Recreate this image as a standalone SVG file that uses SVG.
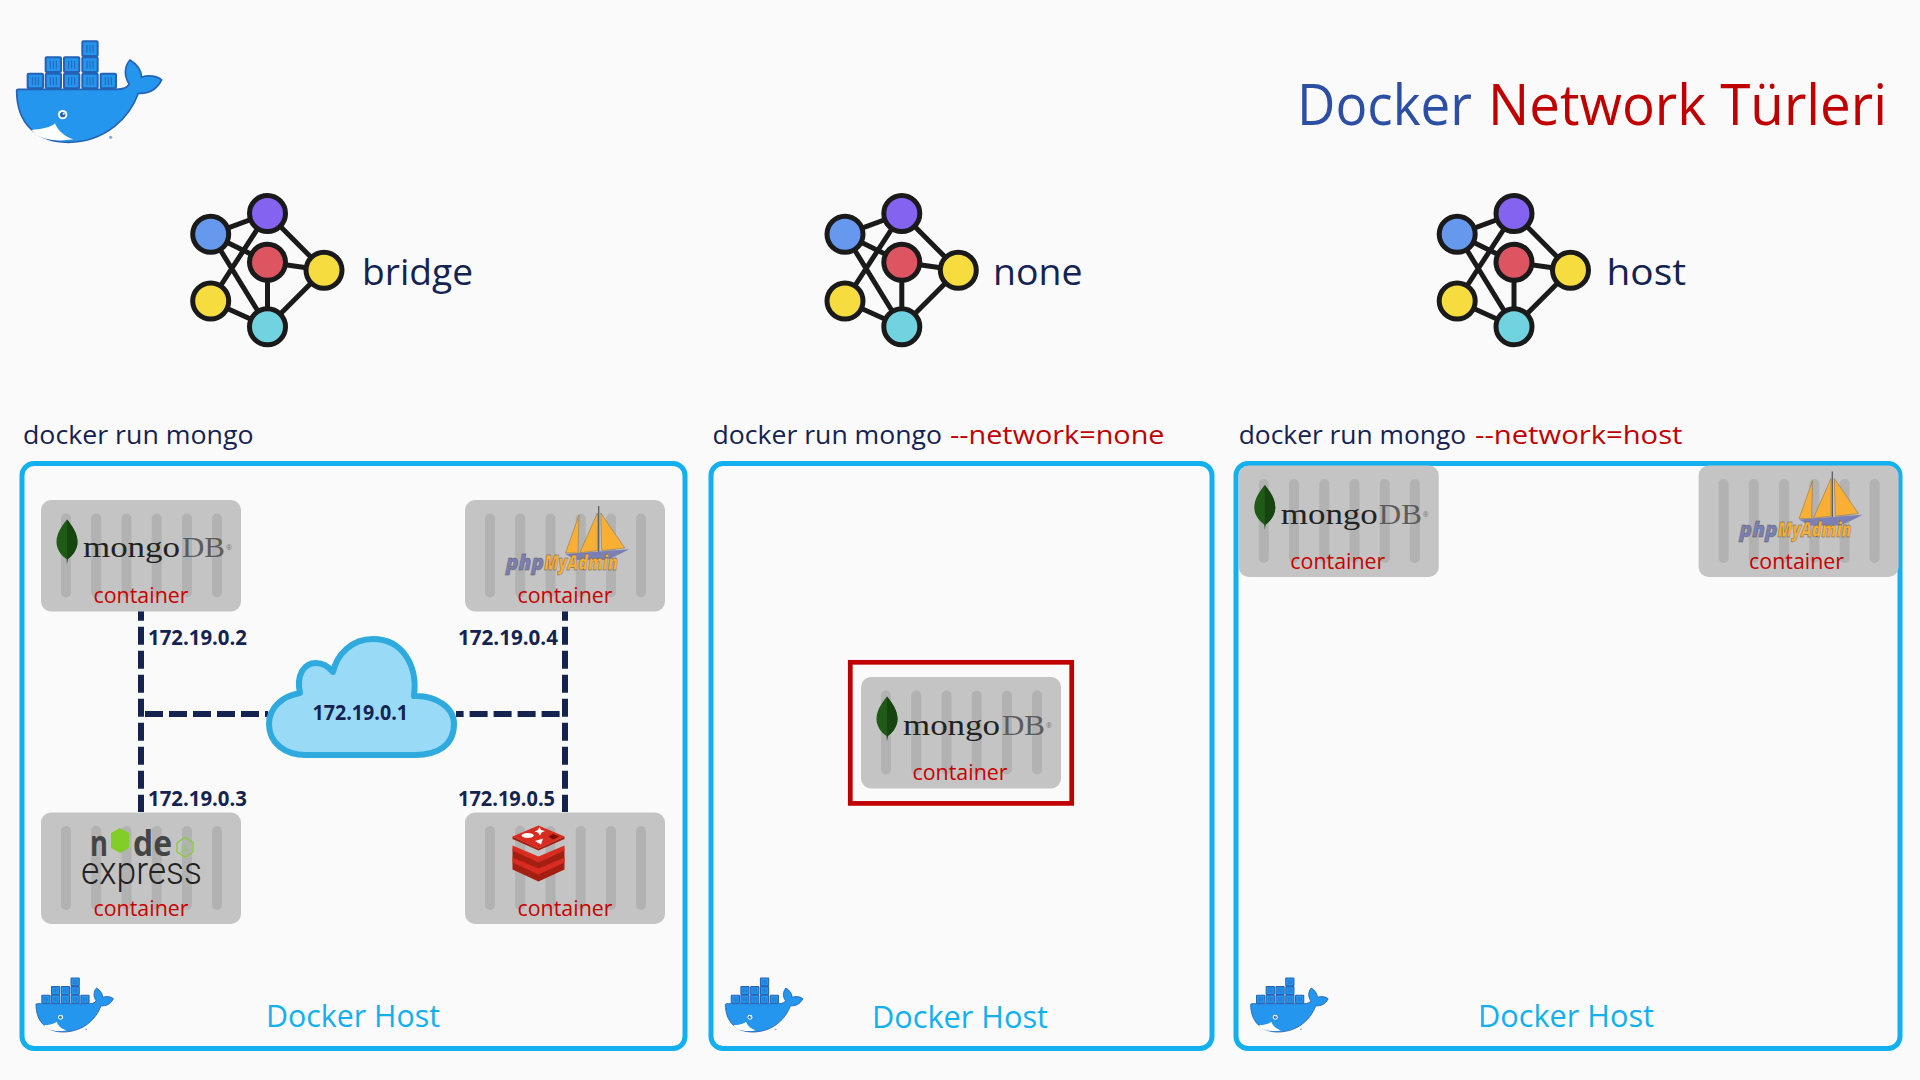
<svg xmlns="http://www.w3.org/2000/svg" xmlns:xlink="http://www.w3.org/1999/xlink" width="1920" height="1080" viewBox="0 0 1920 1080">
<style>
text{font-family:"Open Sans","Noto Sans","Liberation Sans",sans-serif}
.navy{fill:#152351}
.red{fill:#c00000}
.cmd{font-size:26px}
.net{font-size:37px;fill:#152351}
.ip{font-size:21px;font-weight:700;fill:#152351}
.ctn{font-size:22px;fill:#c80000;text-anchor:middle}
.host{font-size:31px;fill:#12b0ef}
.panel{fill:none;stroke:#12b0ef;stroke-width:5}
.dash{stroke:#152351;stroke-width:6;fill:none;stroke-dasharray:18 6}
.mongo{font-family:"Liberation Serif",serif;font-size:30px;fill:#222}
.db{font-family:"Liberation Serif",serif;font-size:30px;fill:#5c5c5c}
.reg{font-size:7px;fill:#777}
.pma{font-size:21px;font-weight:800;font-style:italic;stroke:#555;stroke-width:.4}
.edge{stroke:#1a1a1a;stroke-width:5}
.nd{stroke:#1a1a1a;stroke-width:5}
.wb{fill:#2496ed;stroke:#2562b5;stroke-width:6}
.wt{stroke:#2562b5;stroke-width:3}
</style>
<defs>
<g id="crate"><rect x="4" y="4" width="46" height="44" rx="3" class="wb"/><path d="M18 14V38M27 14V38M36 14V38" class="wt" fill="none"/></g>
<g id="whale">
<use href="#crate" x="243" y="120"/><use href="#crate" x="133" y="168"/><use href="#crate" x="188" y="168"/><use href="#crate" x="243" y="168"/>
<use href="#crate" x="79" y="217"/><use href="#crate" x="133" y="217"/><use href="#crate" x="188" y="217"/><use href="#crate" x="243" y="217"/><use href="#crate" x="298" y="217"/>
<path d="M50 272Q50 268 56 268H350C370 268 382 262 388 252C372 230 372 200 390 180C410 192 424 212 425 232C445 224 472 228 485 240C470 270 445 282 415 280C390 350 320 425 205 427C110 427 50 370 50 272Z" fill="#2496ed" stroke="#2562b5" stroke-width="5"/>
<path d="M95 390C120 387 150 385 165 370C175 395 195 410 220 418C170 426 115 420 95 390Z" fill="#fff"/>
<circle cx="188" cy="344" r="14" fill="#fff"/><circle cx="188" cy="344" r="8" fill="#2562b5"/><circle cx="191" cy="341" r="3" fill="#fff"/>
<circle cx="332" cy="412" r="5" fill="#8fa6d8"/>
</g>
<g id="netw">
<path class="edge" d="M210.700 234.300L267.500 213.500M210.700 234.300L267.500 262.300M210.700 234.300L267.500 326.700M267.500 213.500L210.700 301M267.500 213.500L324 270.300M267.500 262.300L324 270.300M267.500 262.300V326.700M210.700 301L267.500 326.700M324 270.300L267.500 326.700"/>
<circle class="nd" cx="267.500" cy="213.500" r="18" fill="#8363f0"/>
<circle class="nd" cx="210.700" cy="234.300" r="18" fill="#6699ee"/>
<circle class="nd" cx="267.500" cy="262.300" r="18" fill="#dd5560"/>
<circle class="nd" cx="324" cy="270.300" r="18" fill="#f7dc3f"/>
<circle class="nd" cx="210.700" cy="301" r="18" fill="#f7dc3f"/>
<circle class="nd" cx="267.500" cy="326.700" r="18" fill="#72d3e0"/>
</g>
<g id="box">
<rect width="200" height="111.500" rx="10" fill="#c4c4c4"/>
<g fill="#b2b2b2"><rect x="20" y="13.500" width="10" height="84" rx="5"/><rect x="50.200" y="13.500" width="10" height="84" rx="5"/><rect x="80.500" y="13.500" width="10" height="84" rx="5"/><rect x="110.700" y="13.500" width="10" height="84" rx="5"/><rect x="141" y="13.500" width="10" height="84" rx="5"/><rect x="171" y="13.500" width="10" height="84" rx="5"/></g>
</g>
<g id="leaf"><path d="M26 19.500C20 27 15.500 34 15.500 42C15.500 50 21 56 25.500 59L26 64.500L26.800 59C31 56 36.500 50 36.500 42C36.500 34 32 27 26 19.500Z" fill="#1f5a17"/><path d="M26 19.500C32 27 36.500 34 36.500 42C36.500 50 31 56 26.800 59L26 62Z" fill="#16450f"/></g>
<g id="ship">
<path d="M114 15L100.500 53H113Z" fill="#f9ae34" stroke="#8a7a55" stroke-width=".6"/>
<path d="M132.400 13L114.800 52.700L132.400 50.700Z" fill="#f9ae34" stroke="#8a7a55" stroke-width=".6"/>
<path d="M135.800 13L159.800 48L136.600 50.700Z" fill="#f9ae34" stroke="#8a7a55" stroke-width=".6"/>
<path d="M133.700 6V52" stroke="#555" stroke-width="1.200"/>
<path d="M100.500 54L164 49.300C155 54 148 58 140 60H110.500Z" fill="#7c7fb2"/>
</g>
</defs>

<rect width="1920" height="1080" fill="#fafafa"/>

<g id="logo-docker" transform="scale(.3333)"><use href="#whale"/></g>

<g id="title">
<text x="1297" y="125" font-size="56" fill="#2c4fa3" textLength="175" lengthAdjust="spacingAndGlyphs">Docker</text>
<text x="1488" y="125" font-size="56" class="red" textLength="399" lengthAdjust="spacingAndGlyphs">Network Türleri</text>
</g>

<g id="net-bridge"><use href="#netw"/><text x="362" y="285" class="net" textLength="111" lengthAdjust="spacingAndGlyphs">bridge</text></g>
<g id="net-none"><use href="#netw" x="634.300"/><text x="993" y="285" class="net" textLength="89.500" lengthAdjust="spacingAndGlyphs">none</text></g>
<g id="net-host"><use href="#netw" x="1246.500"/><text x="1606.500" y="285" class="net" textLength="79.500" lengthAdjust="spacingAndGlyphs">host</text></g>

<g id="cmd-bridge"><text x="23" y="444" class="cmd navy" textLength="230.500" lengthAdjust="spacingAndGlyphs">docker run mongo</text></g>
<g id="cmd-none"><text x="712.500" y="444" class="cmd navy" textLength="229.500" lengthAdjust="spacingAndGlyphs">docker run mongo</text><text x="950" y="444" class="cmd red" textLength="214.500" lengthAdjust="spacingAndGlyphs">--network=none</text></g>
<g id="cmd-host"><text x="1238.700" y="444" class="cmd navy" textLength="227.500" lengthAdjust="spacingAndGlyphs">docker run mongo</text><text x="1475" y="444" class="cmd red" textLength="207.500" lengthAdjust="spacingAndGlyphs">--network=host</text></g>

<g id="panel-bridge">
<rect class="panel" x="22" y="463.500" width="663" height="585" rx="12"/>
<use href="#whale" transform="translate(27.100 956) scale(.178)"/>
<text x="266" y="1027" class="host" textLength="174" lengthAdjust="spacingAndGlyphs">Docker Host</text>
</g>
<g id="panel-none">
<rect class="panel" x="711" y="463.500" width="501" height="585" rx="12"/>
<use href="#whale" transform="translate(716.500 956) scale(.178)"/>
<text x="872" y="1028" class="host" textLength="176" lengthAdjust="spacingAndGlyphs">Docker Host</text>
</g>
<g id="panel-host">
<rect class="panel" x="1236" y="463.500" width="664" height="585" rx="12"/>
<use href="#whale" transform="translate(1241.800 956) scale(.178)"/>
<text x="1478" y="1027" class="host" textLength="176" lengthAdjust="spacingAndGlyphs">Docker Host</text>
</g>

<g id="connectors">
<path class="dash" d="M141 602.700V812"/>
<path class="dash" d="M565 602.700V812"/>
<path class="dash" d="M145 714H268"/>
<path class="dash" d="M559.600 714H456"/>
</g>

<g id="node-cloud">
<path d="M306 755H415C438 755 454 745 454 724C454 707 435 695 414 696C418 665 402 639 373 639C352 639 337 654 333 672C328 666 322 663 316 663C304 663 296 675 300 693C282 696 269 708 269 724C269 743 285 755 306 755Z" fill="#99dbf7" stroke="#2eaadf" stroke-width="6" stroke-linejoin="round"/>
<text x="312.500" y="720" class="ip" textLength="95.500" lengthAdjust="spacingAndGlyphs">172.19.0.1</text>
</g>
<g id="ip-labels">
<text x="148" y="645" class="ip" textLength="99" lengthAdjust="spacingAndGlyphs">172.19.0.2</text>
<text x="458" y="645" class="ip" textLength="100" lengthAdjust="spacingAndGlyphs">172.19.0.4</text>
<text x="148" y="806" class="ip" textLength="99" lengthAdjust="spacingAndGlyphs">172.19.0.3</text>
<text x="458" y="806" class="ip" textLength="97" lengthAdjust="spacingAndGlyphs">172.19.0.5</text>
</g>

<g id="node-mongo-bridge" transform="translate(41 500)">
<use href="#box"/><use href="#leaf"/>
<text x="42" y="57" class="mongo" textLength="97" lengthAdjust="spacingAndGlyphs">mongo</text><text x="141" y="57" class="db" textLength="43" lengthAdjust="spacingAndGlyphs">DB</text><text x="185" y="50" class="reg">®</text>
<text x="100" y="103" class="ctn" textLength="95" lengthAdjust="spacingAndGlyphs">container</text>
</g>
<g id="node-pma-bridge" transform="translate(465 500)">
<use href="#box"/><use href="#ship"/>
<text x="41" y="70" class="pma" fill="#7c7fb2" textLength="38" lengthAdjust="spacingAndGlyphs">php</text><text x="79" y="70" class="pma" fill="#f9ae34" textLength="74" lengthAdjust="spacingAndGlyphs">MyAdmin</text>
<text x="100" y="103" class="ctn" textLength="95" lengthAdjust="spacingAndGlyphs">container</text>
</g>
<g id="node-express" transform="translate(41 812.500)">
<use href="#box"/>
<text x="49" y="43" font-size="36" font-weight="700" fill="#444" textLength="18" lengthAdjust="spacingAndGlyphs">n</text>
<path d="M79 15.500L88 20.500V35.500L79 40.500L70 35.500V20.500Z" fill="#83cd29"/>
<text x="92" y="43" font-size="36" font-weight="700" fill="#444" textLength="39" lengthAdjust="spacingAndGlyphs">de</text>
<path d="M144 25L152 30V39.500L144 44.500L136 39.500V30Z" fill="none" stroke="#83cd29" stroke-width="1.200"/>
<text x="140" y="38" font-size="9" fill="#83cd29">js</text>
<text x="40" y="71" font-size="38" font-weight="300" fill="#222" style="font-family:Roboto,'Open Sans',sans-serif" textLength="121" lengthAdjust="spacingAndGlyphs">express</text>
<text x="100" y="103" class="ctn" textLength="95" lengthAdjust="spacingAndGlyphs">container</text>
</g>
<g id="node-redis" transform="translate(465 812.500)">
<use href="#box"/>
<path d="M73.500 49L99.500 36V57L73.500 69L47.500 57V36Z" fill="#a41e11"/>
<path d="M73.500 56L99.500 45V50L73.500 62L47.500 50V45Z" fill="#d82c20"/>
<path d="M73.500 44L99.500 33V38L73.500 50L47.500 38V33Z" fill="#d82c20"/>
<path d="M47.500 24V26.500L73.500 38L99.500 26.500V24L73.500 36Z" fill="#a41e11"/>
<path d="M73.500 13L99.500 24L73.500 36L47.500 24Z" fill="#d82c20"/>
<ellipse cx="62.700" cy="23" rx="6" ry="2.600" fill="#fff"/>
<path d="M74.500 14.500L76 17.500L80 18.500L76.500 20L75 23L73 20L69.500 19L73 17.500Z" fill="#fff"/>
<path d="M70 28.500L78 26L76 32Z" fill="#fff"/>
<path d="M88 21.500L94 24L88 27L83.500 24Z" fill="#7a0c00"/>
<text x="100" y="103" class="ctn" textLength="95" lengthAdjust="spacingAndGlyphs">container</text>
</g>

<g id="node-mongo-none">
<rect x="850.300" y="662.300" width="221.400" height="141.100" fill="none" stroke="#c00000" stroke-width="4.700"/>
<g transform="translate(861 677)">
<use href="#box"/><use href="#leaf"/>
<text x="42" y="58" class="mongo" textLength="97" lengthAdjust="spacingAndGlyphs">mongo</text><text x="141" y="58" class="db" textLength="43" lengthAdjust="spacingAndGlyphs">DB</text><text x="185" y="51" class="reg">®</text>
<text x="99" y="102.500" class="ctn" textLength="95" lengthAdjust="spacingAndGlyphs">container</text>
</g>
</g>
<g id="node-mongo-host" transform="translate(1238.800 465.500)">
<use href="#box"/><use href="#leaf"/>
<text x="42" y="58" class="mongo" textLength="97" lengthAdjust="spacingAndGlyphs">mongo</text><text x="140" y="58" class="db" textLength="43" lengthAdjust="spacingAndGlyphs">DB</text><text x="184" y="51" class="reg">®</text>
<text x="99" y="103" class="ctn" textLength="95" lengthAdjust="spacingAndGlyphs">container</text>
</g>
<g id="node-pma-host" transform="translate(1698.600 465.500)">
<use href="#box"/><use href="#ship"/>
<text x="41" y="71" class="pma" fill="#7c7fb2" textLength="38" lengthAdjust="spacingAndGlyphs">php</text><text x="79" y="71" class="pma" fill="#f9ae34" textLength="74" lengthAdjust="spacingAndGlyphs">MyAdmin</text>
<text x="98" y="103" class="ctn" textLength="95" lengthAdjust="spacingAndGlyphs">container</text>
</g>
</svg>
